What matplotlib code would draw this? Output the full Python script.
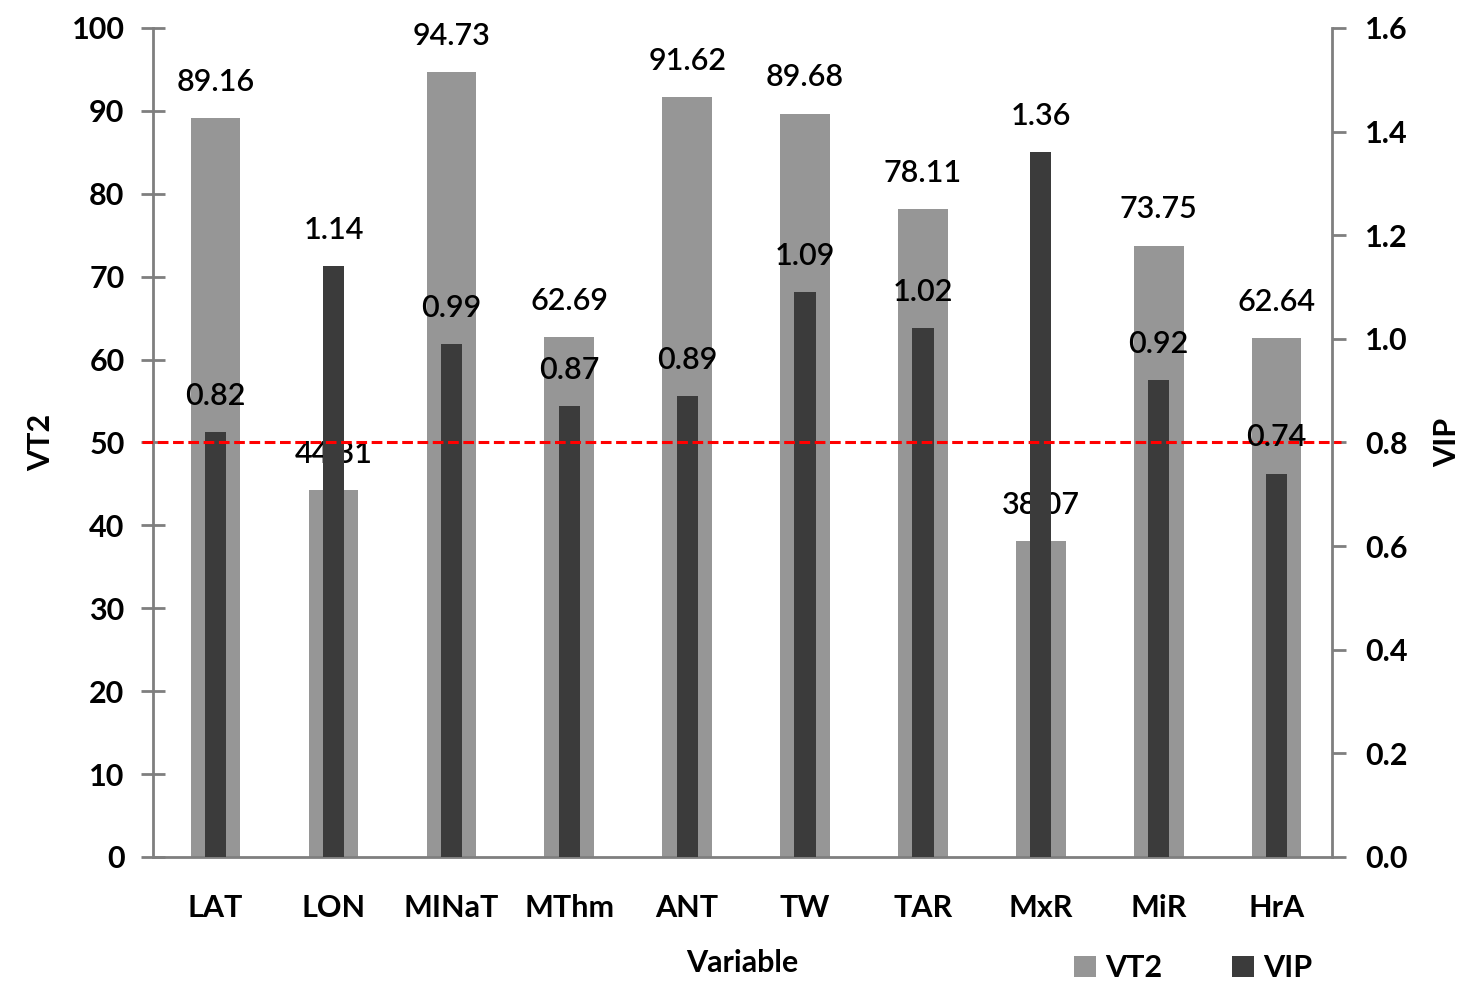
import matplotlib
matplotlib.use("Agg")
import matplotlib.pyplot as plt
from matplotlib.patches import Patch
import numpy as np

# Variable importance summary
variables = ["LAT", "LON", "MINaT", "MThm", "ANT", "TW", "TAR", "MxR", "MiR", "HrA"]
vt2 = [89.16, 44.31, 94.73, 62.69, 91.62, 89.68, 78.11, 38.07, 73.75, 62.64]
vip = [0.82, 1.14, 0.99, 0.87, 0.89, 1.09, 1.02, 1.36, 0.92, 0.74]
vip_threshold = 0.8

plt.rcParams["font.family"] = ["Lato", "DejaVu Sans"]

GRAY = "#969696"
DARK = "#3b3b3b"
SPINE = "#7f7f7f"
FS = 22

fig = plt.figure(figsize=(14.63, 9.85), dpi=100)
ax = fig.add_axes([0.1046, 0.130, 0.8059, 0.8416])
ax2 = ax.twinx()

x = np.arange(len(variables))
ax.bar(x, vt2, width=0.42, color=GRAY, zorder=1)
ax2.bar(x, vip, width=0.18, color=DARK, zorder=2)

label_font = dict(fontsize=FS, color="#000000", ha="center", va="center",
                  fontweight="semibold")
for xi, v in zip(x, vt2):
    ax.annotate(f"{v:.2f}", (xi, v), xytext=(0, 26), textcoords="offset points",
                zorder=5, **label_font)
for xi, v in zip(x, vip):
    ax2.annotate(f"{v:.2f}", (xi, v), xytext=(0, 26), textcoords="offset points",
                 zorder=5, **label_font)

# VIP = 0.8 reference line
ax2.plot([-0.62, 9.55], [vip_threshold, vip_threshold], color="#ff0000",
         linestyle=(0, (3.5, 1.5)), linewidth=2.2, clip_on=False, zorder=4)

ax.set_xlim(-0.53, 9.47)
ax.set_ylim(0, 100)
ax2.set_ylim(0, 1.6)
ax.set_yticks(np.arange(0, 101, 10))
ax2.set_yticks(np.arange(0, 1.61, 0.2))
ax2.set_yticklabels([f"{t:.1f}" for t in np.arange(0, 1.61, 0.2)])
ax.set_xticks(x)
ax.set_xticklabels(variables)

for a in (ax, ax2):
    a.spines["top"].set_visible(False)
    for s in a.spines.values():
        s.set_color(SPINE)
        s.set_linewidth(2)
ax.spines["right"].set_visible(False)
ax2.spines["left"].set_visible(False)
ax2.spines["bottom"].set_visible(False)

ax.tick_params(axis="y", direction="inout", length=17, width=2, color=SPINE,
               pad=12, labelsize=FS)
ax2.tick_params(axis="y", direction="out", length=10, width=2, color=SPINE,
                pad=14, labelsize=FS)
ax.tick_params(axis="x", length=0, pad=27, labelsize=FS)
for lab in ax.get_yticklabels() + ax.get_xticklabels() + ax2.get_yticklabels():
    lab.set_fontweight("bold")

ax.set_ylabel("VT2", fontsize=FS, fontweight="bold", labelpad=12)
ax2.set_ylabel("VIP", fontsize=FS, fontweight="bold", labelpad=18)
ax.set_xlabel("Variable", fontsize=FS, fontweight="bold", labelpad=19)

handles = [Patch(facecolor=GRAY, label="VT2"), Patch(facecolor=DARK, label="VIP")]
fig.legend(handles=handles, loc="center", bbox_to_anchor=(0.8155, 0.017), ncol=2,
           frameon=False, handlelength=0.7, handleheight=0.7, handletextpad=0.3,
           columnspacing=2.3, prop=dict(size=FS, weight="bold"))

fig.savefig("out.png", dpi=100)
